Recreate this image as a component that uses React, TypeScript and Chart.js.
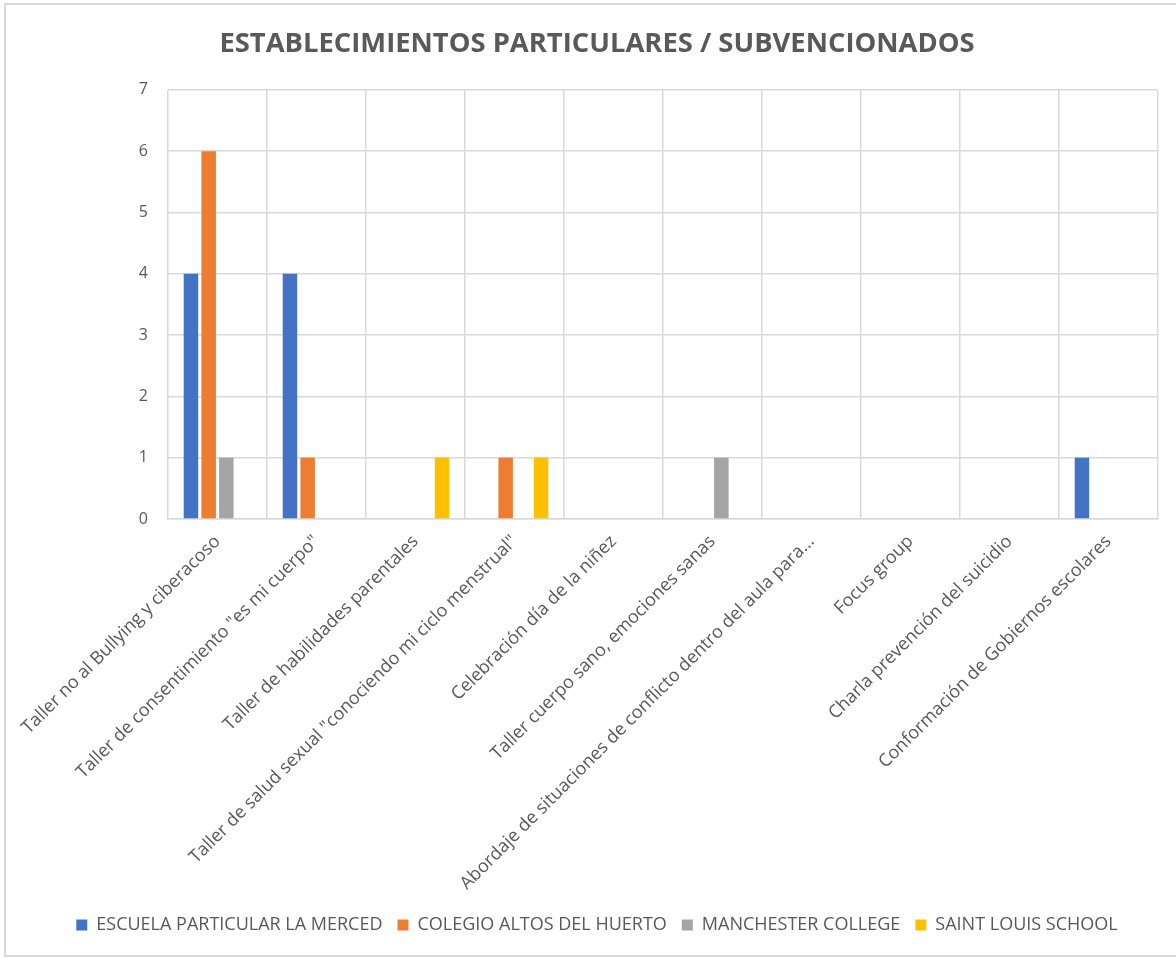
import React, { useEffect, useRef } from "react";
import { Chart, registerables } from "chart.js";

Chart.register(...registerables);

const TITLE = "ESTABLECIMIENTOS PARTICULARES / SUBVENCIONADOS";

const categories = [
  "Taller no al Bullying y ciberacoso",
  'Taller de consentimiento "es mi cuerpo"',
  "Taller de habilidades parentales",
  'Taller de salud sexual "conociendo mi ciclo menstrual"',
  "Celebración día de la niñez",
  "Taller cuerpo sano, emociones sanas",
  "Abordaje de situaciones de conflicto dentro del aula para...",
  "Focus group",
  "Charla prevención del suicidio",
  "Conformación de Gobiernos escolares",
];

const seriesNames = [
  "ESCUELA PARTICULAR LA MERCED",
  "COLEGIO ALTOS DEL HUERTO",
  "MANCHESTER COLLEGE",
  "SAINT LOUIS SCHOOL",
];

const escuelaLaMerced = [4, 4, 0, 0, 0, 0, 0, 0, 0, 1];
const colegioAltosDelHuerto = [6, 1, 0, 1, 0, 0, 0, 0, 0, 0];
const manchesterCollege = [1, 0, 0, 0, 0, 1, 0, 0, 0, 0];
const saintLouisSchool = [0, 0, 1, 1, 0, 0, 0, 0, 0, 0];

const yTicks = [0, 1, 2, 3, 4, 5, 6, 7];

const colors = ["#4472C4", "#ED7D31", "#A5A5A5", "#FFC000"];
const FONT = "'Open Sans', sans-serif";
const TEXT = "#595959";
const GRID = "#d9d9d9";

const frame = {
  id: "frame",
  beforeDraw(chart: any) {
    const { ctx, width, height } = chart;
    ctx.save();
    ctx.fillStyle = "#ffffff";
    ctx.fillRect(0, 0, width, height);
    ctx.strokeStyle = "#d9d9d9";
    ctx.lineWidth = 2;
    ctx.strokeRect(5, 4, width + 10, height - 6);
    ctx.restore();
  },
};

export default function App() {
  const ref = useRef<HTMLCanvasElement | null>(null);

  useEffect(() => {
    if (!ref.current) return;
    const all = [escuelaLaMerced, colegioAltosDelHuerto, manchesterCollege, saintLouisSchool];
    const chart = new Chart(ref.current, {
      type: "bar",
      data: {
        labels: categories,
        datasets: all.map((d, i) => ({
          label: seriesNames[i],
          data: d,
          backgroundColor: colors[i],
          borderWidth: 0,
          categoryPercentage: 0.715,
          barPercentage: 0.82,
        })),
      },
      plugins: [frame],
      options: {
        responsive: false,
        animation: false,
        layout: { padding: { left: 36, right: 18, top: 0, bottom: 14 } },
        plugins: {
          title: {
            display: true,
            text: TITLE,
            color: TEXT,
            font: { family: FONT, size: 27.4, weight: "bold" },
            padding: { top: 28, bottom: 29 },
          },
          legend: {
            position: "bottom",
            labels: {
              color: TEXT,
              font: { family: FONT, size: 18 },
              boxWidth: 11,
              boxHeight: 11,
              padding: 15,
            },
          },
          tooltip: { enabled: false },
        },
        scales: {
          x: {
            grid: { color: GRID, lineWidth: 1.5, drawTicks: false },
            border: { color: GRID, width: 1.5 },
            ticks: {
              color: TEXT,
              font: { family: FONT, size: 18 },
              maxRotation: 45,
              minRotation: 45,
              autoSkip: false,
              padding: 12,
            },
            afterFit: (s: any) => {
              s.height = 382;
              s.paddingLeft = 0;
              s.paddingRight = 0;
            },
          },
          y: {
            min: 0,
            max: 7,
            grid: { color: GRID, lineWidth: 1.5, drawTicks: false },
            border: { display: false },
            ticks: {
              color: TEXT,
              font: { family: FONT, size: 16 },
              stepSize: 1,
              padding: 20,
              callback: (v: any) => (yTicks.includes(v) ? String(v) : ""),
            },
            afterFit: (s: any) => {
              s.width = 132;
            },
          },
        },
      },
    });
    return () => chart.destroy();
  }, []);

  return (
    <div style={{ position: "absolute", left: 0, top: 0, width: 1176, height: 958 }}>
      <canvas ref={ref} width={1176} height={958} />
    </div>
  );
}
